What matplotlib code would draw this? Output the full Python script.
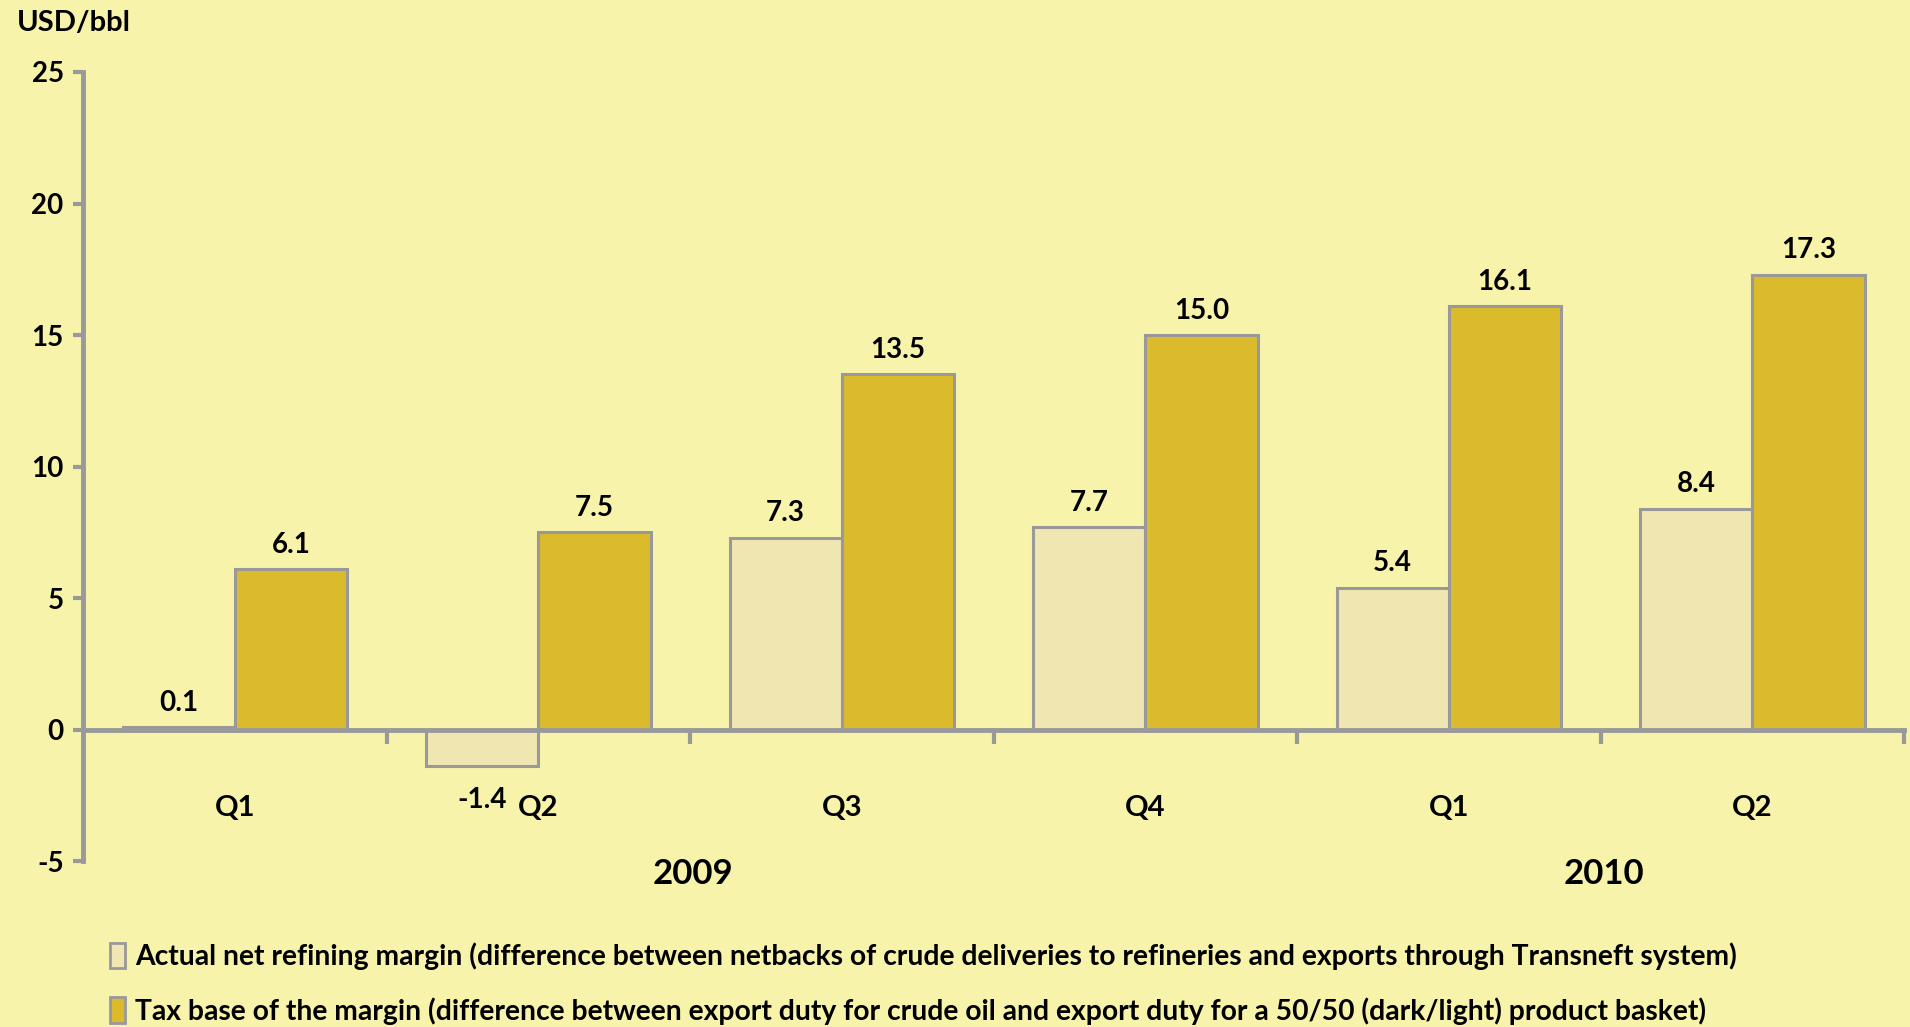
import matplotlib
matplotlib.use('Agg')
import matplotlib.pyplot as plt
import matplotlib.transforms as mtransforms
from matplotlib.patches import Patch
import numpy as np

plt.rcParams['font.family'] = ['Lato', 'DejaVu Sans']
plt.rcParams['font.weight'] = 'bold'
plt.rcParams['axes.unicode_minus'] = False

quarters = ['Q1', 'Q2', 'Q3', 'Q4', 'Q1', 'Q2']
years = ['2009', '2010']
year_spans = [(0, 3), (4, 5)]
actual_margin = [0.1, -1.4, 7.3, 7.7, 5.4, 8.4]
tax_base = [6.1, 7.5, 13.5, 15.0, 16.1, 17.3]
legend_labels = [
    'Actual net refining margin (difference between netbacks of crude deliveries to refineries and exports through Transneft system)',
    'Tax base of the margin (difference between export duty for crude oil and export duty for a 50/50 (dark/light) product basket)',
]

bg = '#F7F3AA'
light = '#F0E6B2'
gold = '#DBBA2B'
grey = '#999999'

fig = plt.figure(figsize=(19.1, 10.27), dpi=100, facecolor=bg)
ax = fig.add_axes([0.0435, 0.1616, 0.9534, 0.7683], facecolor=bg)

x = np.arange(len(quarters))
w = 0.37
b1 = ax.bar(x - w / 2, actual_margin, w, color=light, edgecolor=grey, linewidth=2.2, zorder=2)
b2 = ax.bar(x + w / 2, tax_base, w, color=gold, edgecolor=grey, linewidth=2.2, zorder=2)

for bars, vals in ((b1, actual_margin), (b2, tax_base)):
    for r, v in zip(bars, vals):
        cx = r.get_x() + r.get_width() / 2
        if v >= 0:
            ax.annotate(f'{v:.1f}', (cx, v), xytext=(0, 8), textcoords='offset points',
                        ha='center', va='bottom', fontsize=20, fontweight='bold')
        else:
            ax.annotate(f'{v:.1f}', (cx, v), xytext=(0, -15), textcoords='offset points',
                        ha='center', va='top', fontsize=20, fontweight='bold')

ax.set_xlim(-0.5, len(quarters) - 0.5)
ax.set_ylim(-5, 25)
ax.set_yticks(np.arange(-5, 26, 5))
ax.tick_params(axis='y', labelsize=20, length=7, width=3, color=grey, pad=7)
ax.set_xticks(np.arange(0.5, len(quarters), 1))
ax.set_xticklabels([])
ax.tick_params(axis='x', length=10, width=3, color=grey, direction='out')

for s in ('top', 'right'):
    ax.spines[s].set_visible(False)
ax.spines['left'].set_color(grey)
ax.spines['left'].set_linewidth(3.5)
ax.spines['bottom'].set_color(grey)
ax.spines['bottom'].set_linewidth(3.5)
ax.spines['bottom'].set_position(('data', 0))
ax.spines['bottom'].set_zorder(3)

trans = mtransforms.blended_transform_factory(ax.transData, ax.transData)
for i, q in enumerate(quarters):
    ax.text(i, -3.0, q, transform=trans, ha='center', va='center', fontsize=21, fontweight='bold')
for yr, (a, b) in zip(years, year_spans):
    ax.text((a + b) / 2 + 0.01, -5.5, yr, transform=trans, ha='center', va='center',
            fontsize=25, fontweight='bold', clip_on=False)

fig.text(0.009, 0.978, 'USD/bbl', ha='left', va='center', fontsize=21, fontweight='bold')

handles = [Patch(facecolor=light, edgecolor=grey, linewidth=2),
           Patch(facecolor=gold, edgecolor=grey, linewidth=2)]
fig.legend(handles, legend_labels, loc='upper left', bbox_to_anchor=(0.0575, 0.082),
           frameon=False, fontsize=20.3, handlelength=0.55, handleheight=1.0,
           handletextpad=0.35, labelspacing=0.95, borderaxespad=0, borderpad=0)

fig.savefig('out.png', dpi=100, facecolor=bg)
